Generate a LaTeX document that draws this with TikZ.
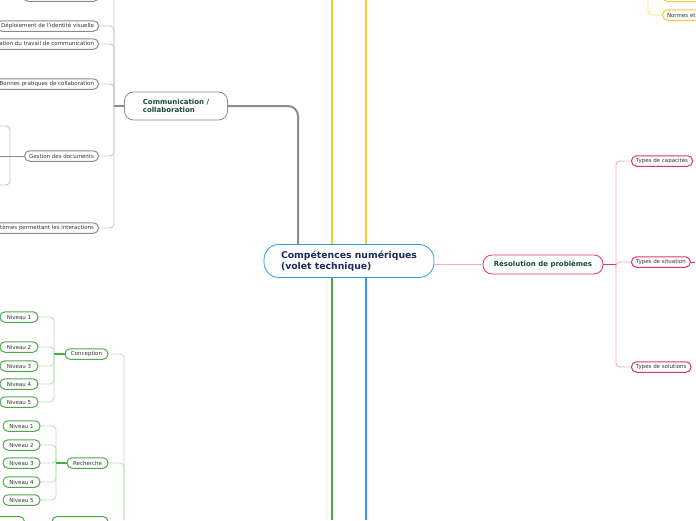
\documentclass[tikz,border=0pt]{standalone}
\usepackage{fontspec}
\setmainfont{DejaVu Sans}
\usetikzlibrary{positioning,calc}
\definecolor{grisB}{HTML}{8C8C8C}
\definecolor{grisL}{HTML}{C8C8C8}
\definecolor{roseB}{HTML}{E0336E}
\definecolor{roseL}{HTML}{F5A9C3}
\definecolor{vertB}{HTML}{4FA84A}
\definecolor{vertL}{HTML}{BADFB5}
\definecolor{jaune}{HTML}{F7CB2D}
\definecolor{jauneL}{HTML}{F9DF85}
\definecolor{bleu}{HTML}{2D9AE6}
\definecolor{titre}{HTML}{1C2B5C}
\definecolor{vertT}{HTML}{17483A}

\begin{document}
\begin{tikzpicture}[x=1pt,y=-1pt]
    \tikzstyle{every node}=[inner sep=0pt]
    \tikzstyle{feuille}=[draw,rounded corners=5pt,line width=1pt,minimum height=10.5pt,
        font=\fontsize{5.5}{6}\selectfont,text=black!80,inner xsep=4.5pt]
    \tikzstyle{branche}=[draw,rounded corners=9pt,line width=0.8pt,minimum height=19pt,
        font=\fontsize{7}{8.5}\selectfont\bfseries,text=vertT,align=left,inner xsep=10pt]
    \tikzstyle{lien}=[line width=0.9pt,rounded corners=4pt]
    \useasboundingbox (0,0) rectangle (696,520);
    \clip (0,0) rectangle (696,520);
    % tronc central
    \node[draw=bleu,line width=0.8pt,rounded corners=15pt,minimum width=170pt,minimum height=33pt,
        font=\fontsize{9.3}{11}\selectfont\bfseries,text=titre,align=left] (ctr) at (349,261)
        {Compétences numériques\\(volet technique)};
    \coordinate (jh1) at (332,0);
    \coordinate (jh2) at (366,0);
    \coordinate (vb) at (332,520);
    \coordinate (bb) at (366,520);
    \draw[jaune,line width=1.8pt] (ctr.north -| jh1) -- (jh1);
    \draw[jaune,line width=1.8pt] (ctr.north -| jh2) -- (jh2);
    \draw[vertB,line width=1.8pt] (ctr.south -| vb) -- (vb);
    \draw[bleu,line width=1.8pt] (ctr.south -| bb) -- (bb);
    % communication / collaboration
    \node[branche,draw=grisB,minimum width=103pt,minimum height=28pt] (com) at (176,106)
        {Communication /\\collaboration};
    \coordinate (gb) at (298,245);
    \draw[grisB,line width=2pt,rounded corners=10pt] (com.east) -| (gb);
    \node[feuille,draw=grisB,minimum width=76pt] (c0) at (61,-4) {};
    \node[feuille,draw=grisB,anchor=east] (c1) at (99,26) {Déploiement de l'identité visuelle};
    \node[feuille,draw=grisB,anchor=east] (c2) at (99,44) {Organisation du travail de communication};
    \node[feuille,draw=grisB,anchor=east] (c3) at (99,84) {Bonnes pratiques de collaboration};
    \node[feuille,draw=grisB,anchor=east] (c4) at (99,156) {Gestion des documents};
    \node[feuille,draw=grisB,anchor=east] (c5) at (99,228) {Systèmes permettant les interactions};
    \coordinate (cs) at (114,106);
    \draw[grisL,lien] (c0.east) -| (cs);
    \foreach \f in {c1,c2,c3,c4,c5}
        \draw[grisL,lien] (\f.east) -| (cs);
    \draw[grisB,line width=1.5pt] (cs) -- (com.west);
    \coordinate (gd) at (10,156);
    \draw[grisL,lien] (0,126) -- (10,126) -- (10,185) -- (0,185);
    \draw[grisB,line width=1pt] (c4.west) -- (gd -| 0,0);
    % haut droite
    \node[feuille,draw=jaune,anchor=south west,minimum width=50pt] (j1) at (662,2) {};
    \node[feuille,draw=jaune,anchor=west] (j2) at (662,15) {Normes et standards};
    \coordinate (js) at (648,0);
    \draw[jauneL,lien] (js) |- (j2.west);
    % résolution de problèmes
    \node[branche,draw=roseB,minimum width=120pt] (res) at (543,264.5) {Résolution de problèmes};
    \draw[roseL,line width=1pt] (res.west -| ctr.east) -- (res.west);
    \node[feuille,draw=roseB,anchor=west] (r1) at (631,161) {Types de capacités};
    \node[feuille,draw=roseB,anchor=west] (r2) at (631,262) {Types de situation};
    \node[feuille,draw=roseB,anchor=west] (r3) at (631,367) {Types de solutions};
    \coordinate (rs) at (616,264.5);
    \foreach \f in {r1,r2,r3}
        \draw[roseL,lien] (\f.west) -| (rs);
    \draw[roseB,line width=1.5pt] (res.east) -- (rs);
    \draw[roseB,line width=0.6pt] (r2.east) -- ++(4,0);
    % conception / recherche
    \coordinate (vs) at (124,520);
    \node[feuille,draw=vertB,minimum width=43pt] (conc) at (86.5,354) {Conception};
    \node[feuille,draw=vertB,minimum width=41pt] (rech) at (87.5,463) {Recherche};
    \draw[vertL,lien] (conc.east) -| (vs);
    \draw[vertL,lien] (rech.east) -| (vs);
    \foreach \y [count=\i] in {317,347,366,384,402}
        \node[feuille,draw=vertB,minimum width=38pt] (a\i) at (19,\y) {Niveau \i};
    \foreach \y [count=\i] in {426,445,463,482,500}
        \node[feuille,draw=vertB,minimum width=37pt] (b\i) at (21.5,\y) {Niveau \i};
    \coordinate (as) at (54,354);
    \coordinate (bs) at (56,463);
    \foreach \i in {1,...,5} {
        \draw[vertL,lien] (a\i.east) -| (as);
        \draw[vertL,lien] (b\i.east) -| (bs);
    }
    \draw[vertB,line width=1.5pt] (as) -- (conc.west);
    \draw[vertB,line width=1.5pt] (bs) -- (rech.west);
    \node[feuille,draw=vertB,anchor=north,minimum width=56pt] (v1) at (80,516) {};
    \node[feuille,draw=vertB,anchor=north east,minimum width=40pt] (v2) at (25,516) {};
\end{tikzpicture}
\end{document}
